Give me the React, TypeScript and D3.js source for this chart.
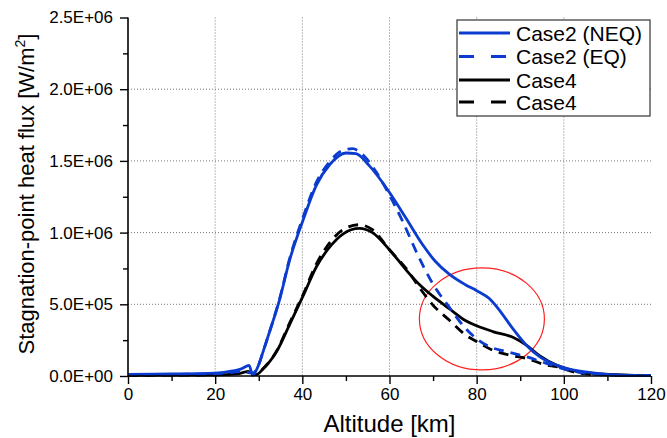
import React, { useEffect, useRef } from 'react';
import * as d3 from 'd3';

// altitude [km] and stagnation-point heat flux [W/m2]
const neqAlt = [0, 10, 20, 24, 26, 27.8, 28.6, 30, 31, 32.5, 34.8, 37.1, 40.2, 43.2, 46.3, 50, 52.3, 55.4, 60, 63.8, 67.5, 70.5, 73.7, 77.5, 80, 82.9, 85.2, 88.3, 91.4, 94.5, 98.3, 100.6, 104.5, 109.8, 120];
const neqQ = [0.12e5, 0.14e5, 0.2e5, 0.35e5, 0.5e5, 0.74e5, 0.05e5, 0.8e5, 1.7e5, 3.1e5, 5.35e5, 8.1e5, 10.9e5, 13.3e5, 14.75e5, 15.55e5, 15.5e5, 14.65e5, 12.8e5, 11.0e5, 9.2e5, 8.0e5, 7.1e5, 6.35e5, 5.95e5, 5.4e5, 4.6e5, 3.3e5, 2.15e5, 1.34e5, 0.76e5, 0.53e5, 0.3e5, 0.12e5, 0.02e5];

const eqAlt = [0, 20, 26, 28.6, 30, 31, 32.5, 34.8, 37.1, 40.2, 43.2, 46.3, 49, 51.5, 54, 57, 60, 63, 66.4, 69.8, 73.7, 77.5, 80, 82.9, 86.8, 91.4, 96, 98.3, 102, 106, 112, 120];
const eqQ = [0.1e5, 0.15e5, 0.3e5, 0.2e5, 0.8e5, 1.7e5, 3.1e5, 5.4e5, 8.2e5, 11.1e5, 13.5e5, 14.95e5, 15.7e5, 15.85e5, 15.4e5, 14.2e5, 12.6e5, 10.8e5, 8.5e5, 6.5e5, 4.8e5, 3.3e5, 2.6e5, 2.05e5, 1.7e5, 1.34e5, 0.88e5, 0.65e5, 0.35e5, 0.15e5, 0.05e5, 0.02e5];

const c4Alt = [0, 20, 25, 27.5, 29.5, 31, 32.5, 34.1, 37.1, 40.2, 43.2, 46.3, 49.3, 53.1, 56.1, 60, 63.8, 66.8, 69.8, 73.7, 77.5, 80, 83.7, 88.3, 91.4, 94.5, 98.3, 102.2, 108.3, 120];
const c4Q = [0.05e5, 0.08e5, 0.15e5, 0.3e5, 0.1e5, 0.5e5, 1.0e5, 1.7e5, 3.6e5, 5.6e5, 7.6e5, 9.0e5, 9.9e5, 10.3e5, 10.0e5, 8.8e5, 7.4e5, 6.4e5, 5.6e5, 4.7e5, 3.85e5, 3.5e5, 3.1e5, 2.7e5, 2.15e5, 1.4e5, 0.76e5, 0.37e5, 0.14e5, 0.02e5];

const c4dAlt = [0, 20, 27.5, 29.5, 31, 34.1, 37.1, 40.2, 43.2, 46.3, 49.3, 53, 56.1, 60, 63.8, 66.8, 69.8, 73.7, 77.5, 80, 83.7, 87.5, 91.4, 96, 98.3, 102, 106, 120];
const c4dQ = [0.05e5, 0.08e5, 0.3e5, 0.1e5, 0.5e5, 1.75e5, 3.7e5, 5.7e5, 7.8e5, 9.3e5, 10.2e5, 10.55e5, 10.2e5, 8.8e5, 7.5e5, 6.2e5, 5.0e5, 3.9e5, 2.85e5, 2.4e5, 1.8e5, 1.46e5, 1.23e5, 0.76e5, 0.65e5, 0.3e5, 0.12e5, 0.02e5];

const legendLabels = ['Case2 (NEQ)', 'Case2 (EQ)', 'Case4', 'Case4'];
const xTicks = [0, 20, 40, 60, 80, 100, 120];
const xMinor = [10, 30, 50, 70, 90, 110];
const yTicks = [0, 5e5, 1e6, 1.5e6, 2e6, 2.5e6];
const yMinor = [2.5e5, 7.5e5, 1.25e6, 1.75e6, 2.25e6];

const BLUE = '#0b3ccf';
const FONT = '"Liberation Sans", Arial, sans-serif';

const sci = (v: number) => {
  if (v === 0) return '0.0E+00';
  const e = Math.floor(Math.log10(v));
  const m = v / Math.pow(10, e);
  return `${m.toFixed(1)}E+${String(e).padStart(2, '0')}`;
};

export default function App() {
  const ref = useRef<SVGSVGElement>(null);

  useEffect(() => {
    const svg = d3.select(ref.current);
    svg.selectAll('*').remove();

    const x = d3.scaleLinear().domain([0, 120]).range([128, 651]);
    const y = d3.scaleLinear().domain([0, 2.5e6]).range([376, 17.5]);

    // grid
    const grid = svg.append('g');
    grid.selectAll('.vg')
      .data(xTicks.filter(d => d > 0 && d < 120))
      .join('line')
      .attr('x1', d => x(d)).attr('x2', d => x(d))
      .attr('y1', y(2.5e6)).attr('y2', y(0))
      .attr('stroke', '#777').attr('stroke-width', 1).attr('stroke-dasharray', '1,2');
    grid.selectAll('.hg')
      .data(yTicks.filter(d => d > 0 && d < 2.5e6))
      .join('line')
      .attr('x1', x(0)).attr('x2', x(120))
      .attr('y1', d => y(d)).attr('y2', d => y(d))
      .attr('stroke', '#777').attr('stroke-width', 1).attr('stroke-dasharray', '1,2');

    // red ellipse
    svg.append('ellipse')
      .attr('cx', x(81.2)).attr('cy', y(3.98e5))
      .attr('rx', 62.5).attr('ry', 51)
      .attr('fill', 'none').attr('stroke', '#ff2020').attr('stroke-width', 1.2);

    const line = d3.line<[number, number]>()
      .x(d => x(d[0])).y(d => y(d[1]))
      .curve(d3.curveMonotoneX);

    const series = [
      { alt: c4dAlt, q: c4dQ, color: '#000', dash: '10,7' },
      { alt: c4Alt, q: c4Q, color: '#000', dash: null },
      { alt: eqAlt, q: eqQ, color: BLUE, dash: '10,7' },
      { alt: neqAlt, q: neqQ, color: BLUE, dash: null },
    ];
    series.forEach(s => {
      svg.append('path')
        .datum(s.alt.map((a, i) => [a, s.q[i]] as [number, number]))
        .attr('d', line)
        .attr('fill', 'none')
        .attr('stroke', s.color)
        .attr('stroke-width', 2.8)
        .attr('stroke-dasharray', s.dash);
    });

    // axes
    const xAxis = svg.append('g').attr('transform', `translate(0,${y(0)})`)
      .call(d3.axisBottom(x).tickValues(xTicks).tickSize(8).tickPadding(4).tickFormat(d => String(d)));
    svg.append('g').attr('transform', `translate(0,${y(0)})`)
      .call(d3.axisBottom(x).tickValues(xMinor).tickSize(5).tickFormat(() => ''))
      .select('.domain').remove();
    const yAxis = svg.append('g').attr('transform', `translate(${x(0)},0)`)
      .call(d3.axisLeft(y).tickValues(yTicks).tickSize(8).tickPadding(7).tickFormat(d => sci(+d)));
    svg.append('g').attr('transform', `translate(${x(0)},0)`)
      .call(d3.axisLeft(y).tickValues(yMinor).tickSize(5).tickFormat(() => ''))
      .select('.domain').remove();

    svg.selectAll('.domain').attr('stroke', '#000').attr('stroke-width', 1.6);
    svg.selectAll('.tick line').attr('stroke', '#000').attr('stroke-width', 1.4);
    xAxis.selectAll('text').attr('font-size', 17).attr('font-family', FONT).attr('fill', '#000');
    yAxis.selectAll('text').attr('font-size', 17).attr('font-family', FONT).attr('fill', '#000');
    xAxis.selectAll('.domain').attr('d', `M${x(0)},0H${x(120)}`);
    yAxis.selectAll('.domain').attr('d', `M0,${y(0)}V${y(2.5e6)}`);

    // axis titles
    svg.append('text')
      .attr('x', (x(0) + x(120)) / 2).attr('y', 432)
      .attr('text-anchor', 'middle')
      .attr('font-family', FONT).attr('font-size', 24)
      .text('Altitude [km]');

    const yt = svg.append('text')
      .attr('transform', `translate(33.5,194) rotate(-90)`)
      .attr('text-anchor', 'middle')
      .attr('font-family', FONT).attr('font-size', 22);
    yt.append('tspan').text('Stagnation-point heat flux [W/m');
    yt.append('tspan').attr('font-size', 14).attr('dy', -9).text('2');
    yt.append('tspan').attr('dy', 9).text(']');

    // legend
    const lg = svg.append('g');
    lg.append('rect')
      .attr('x', 457).attr('y', 20).attr('width', 193).attr('height', 96)
      .attr('fill', '#fff').attr('stroke', '#333').attr('stroke-width', 1.2);
    const rows = [
      { color: BLUE, dash: null },
      { color: BLUE, dash: '15,17' },
      { color: '#000', dash: null },
      { color: '#000', dash: '15,17' },
    ];
    const rowY = [33, 56.5, 80, 102];
    rows.forEach((r, i) => {
      lg.append('line')
        .attr('x1', 459).attr('x2', 510)
        .attr('y1', rowY[i]).attr('y2', rowY[i])
        .attr('stroke', r.color).attr('stroke-width', 2.8)
        .attr('stroke-dasharray', r.dash);
      lg.append('text')
        .attr('x', 516).attr('y', rowY[i])
        .attr('dominant-baseline', 'central')
        .attr('font-family', FONT).attr('font-size', 21)
        .text(legendLabels[i]);
    });
  }, []);

  return (
    <svg ref={ref} width={667} height={438}
      style={{ position: 'absolute', left: 0, top: 0, background: '#fff' }} />
  );
}
